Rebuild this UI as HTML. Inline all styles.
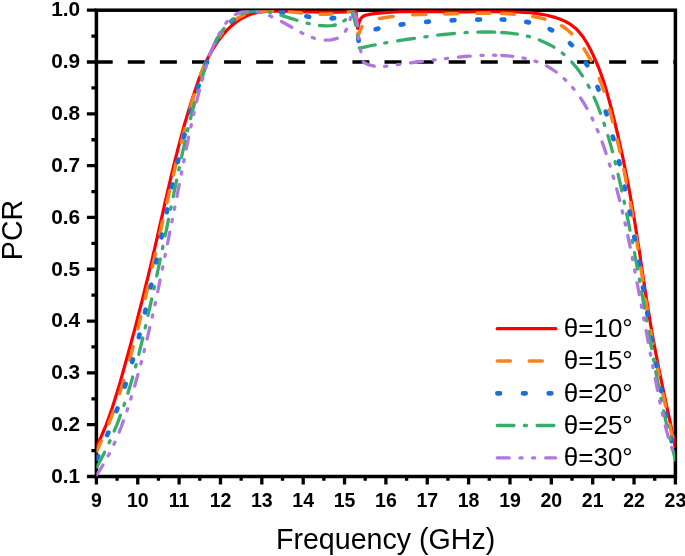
<!DOCTYPE html>
<html><head><meta charset="utf-8"><title>PCR vs Frequency</title>
<style>html,body{margin:0;padding:0;background:#fff}svg{display:block}</style></head>
<body>
<svg width="685" height="556" viewBox="0 0 685 556">
<rect width="685" height="556" fill="#fff"/>
<defs><clipPath id="c"><rect x="96.4" y="10.2" width="579.0" height="466.3"/></clipPath></defs>
<rect x="96.4" y="10.2" width="579.0" height="466.3" fill="none" stroke="#000" stroke-width="3.5"/>
<path d="M96.40,476.5V484.5M117.08,476.5V480.8M137.76,476.5V484.5M158.44,476.5V480.8M179.11,476.5V484.5M199.79,476.5V480.8M220.47,476.5V484.5M241.15,476.5V480.8M261.83,476.5V484.5M282.51,476.5V480.8M303.19,476.5V484.5M323.86,476.5V480.8M344.54,476.5V484.5M365.22,476.5V480.8M385.90,476.5V484.5M406.58,476.5V480.8M427.26,476.5V484.5M447.94,476.5V480.8M468.61,476.5V484.5M489.29,476.5V480.8M509.97,476.5V484.5M530.65,476.5V480.8M551.33,476.5V484.5M572.01,476.5V480.8M592.69,476.5V484.5M613.36,476.5V480.8M634.04,476.5V484.5M654.72,476.5V480.8M675.40,476.5V484.5M96.4,10.20H86.9M96.4,36.11H91.4M96.4,62.01H86.9M96.4,87.92H91.4M96.4,113.82H86.9M96.4,139.73H91.4M96.4,165.63H86.9M96.4,191.54H91.4M96.4,217.44H86.9M96.4,243.35H91.4M96.4,269.26H86.9M96.4,295.16H91.4M96.4,321.07H86.9M96.4,346.97H91.4M96.4,372.88H86.9M96.4,398.78H91.4M96.4,424.69H86.9M96.4,450.59H91.4M96.4,476.50H86.9" stroke="#000" stroke-width="3.3" fill="none"/>
<line x1="95.7" y1="62.0" x2="675.4" y2="62.0" stroke="#000" stroke-width="3.5" stroke-dasharray="17 15.09"/>
<g clip-path="url(#c)" fill="none" stroke-linejoin="round" stroke-linecap="round">
<path d="M96.3,447.0L98.9,441.5L101.4,436.1L103.8,430.5L106.1,425.0L108.2,419.4L110.2,413.7L112.2,408.0L114.0,402.3L115.8,396.6L117.6,390.8L119.3,385.1L121.0,379.3L122.6,373.5L124.2,367.7L125.8,361.9L127.4,356.2L129.0,350.4L130.6,344.6L132.2,338.5L133.9,332.4L135.5,326.3L137.1,320.2L138.6,314.1L140.2,308.0L141.8,301.9L143.3,295.8L144.8,289.7L146.2,283.9L147.7,278.1L149.1,272.2L150.5,266.4L151.9,260.5L153.2,254.7L154.6,248.8L155.9,243.0L157.3,237.1L158.6,231.2L159.9,225.4L161.2,219.5L162.6,213.6L163.9,207.8L165.2,201.9L166.6,196.0L167.9,190.2L169.3,184.3L170.7,178.4L172.0,172.6L173.5,166.7L174.9,160.9L176.4,155.1L177.8,149.3L179.4,143.4L180.9,137.6L182.5,131.6L184.2,125.5L186.0,119.4L187.8,113.4L189.6,107.4L191.5,101.4L193.4,95.4L195.4,89.4L197.4,83.5L199.5,77.6L201.8,71.7L204.2,65.9L206.8,60.2L209.7,54.6L212.6,49.4L215.9,44.3L219.4,39.3L223.2,34.4L227.3,29.9L231.6,25.7L236.3,21.9L241.5,18.5L247.0,15.7L252.8,13.6L258.8,12.3L265.1,11.5L271.1,11.2L277.2,11.1L283.3,11.2L289.4,11.3L295.4,11.5L301.4,11.6L307.7,11.8L314.0,11.9L320.3,12.1L326.5,12.1L332.8,12.2L339.1,12.1L345.1,11.9L351.1,11.5L355.8,10.8L355.7,10.9L356.6,16.9L357.2,23.0L357.6,28.5L357.7,28.3L359.1,22.2L360.7,18.8L362.4,16.8L364.6,15.5L370.6,14.1L376.6,13.4L382.6,12.8L388.5,12.3L394.8,12.0L401.1,11.7L407.4,11.6L413.7,11.5L420.0,11.5L426.0,11.6L432.0,11.6L438.0,11.7L444.0,11.8L450.1,11.8L456.1,11.8L462.1,11.8L468.1,11.8L474.2,11.7L480.2,11.7L486.2,11.6L492.2,11.6L498.5,11.6L504.8,11.7L511.1,11.8L517.3,12.0L523.5,12.3L529.8,12.7L536.0,13.4L541.9,14.3L547.9,15.5L553.8,17.1L559.7,19.0L565.3,21.4L570.6,24.4L575.5,28.2L579.7,32.7L583.5,37.6L586.9,43.0L589.8,48.2L592.5,53.6L595.1,59.3L597.6,65.1L599.9,71.0L602.0,76.9L603.9,82.6L605.7,88.3L607.4,94.1L609.0,99.9L610.6,105.7L612.1,111.5L613.6,117.4L615.0,123.2L616.4,129.1L617.8,134.9L619.1,140.8L620.4,146.6L621.8,152.8L623.1,158.9L624.3,165.1L625.6,171.3L626.8,177.4L628.0,183.6L629.2,189.8L630.3,196.0L631.4,202.2L632.5,208.4L633.5,214.6L634.5,220.5L635.5,226.5L636.4,232.4L637.3,238.3L638.2,244.3L639.2,250.2L640.1,256.1L640.9,262.1L641.8,268.0L642.7,274.0L643.6,279.9L644.5,285.9L645.4,291.8L646.3,297.7L647.3,303.7L648.2,309.6L649.2,315.5L650.1,321.5L651.1,327.4L652.2,333.3L653.2,339.2L654.3,345.1L655.4,351.0L656.5,356.9L657.7,362.8L658.9,369.0L660.2,375.2L661.4,381.0L662.6,386.9L663.9,392.8L665.1,398.6L666.4,404.5L667.6,410.4L668.9,416.2L670.2,422.1L671.4,428.0L672.7,433.9L673.9,439.7L675.1,445.6L675.6,447.7" stroke="#FF0000" stroke-width="3.2" stroke-linecap="butt"/>
<path d="M96.3,451.5L99.0,446.1L101.3,441.1M108.8,423.7L111.0,417.9L113.2,412.0L113.4,411.5M119.5,393.7L121.4,387.8L123.2,381.8L123.6,380.5M129.6,359.8L131.2,353.8L132.8,348.0L133.2,346.6M137.8,328.8L139.3,322.7L140.7,316.9L140.8,316.6M145.1,298.5L146.5,292.6L147.9,286.8L148.1,285.9M152.4,266.9L153.8,261.0L155.1,255.1L155.4,253.7M159.8,234.0L161.2,227.9L162.5,222.0L162.7,221.0M166.9,202.6L168.3,196.6L169.6,190.8M173.4,174.9L174.8,168.8L176.2,163.0L176.3,162.5M181.3,142.3L182.8,136.5L184.3,130.7L184.8,128.6M190.2,108.5L191.9,102.5L193.6,96.8L194.1,94.9M200.5,75.1L202.7,69.4L204.9,63.9L205.7,61.9M215.2,43.5L218.4,38.2L221.9,33.2L222.3,32.7M234.1,20.5L239.2,17.1L244.1,14.8M260.7,11.2L266.8,10.9L272.3,10.9M289.3,11.8L295.4,12.3L301.4,12.9L301.4,12.9M320.0,14.2L326.1,14.2L332.0,14.1M348.3,11.9L352.4,10.8L352.5,10.7L354.9,14.3L355.9,16.7M358.0,33.0L358.4,35.0L360.7,29.4L361.9,26.5M379.5,18.5L385.6,17.5L391.8,16.6L393.1,16.4M412.7,14.8L418.8,14.6L424.8,14.4L425.9,14.3M444.8,14.0L451.0,13.8L457.0,13.7L457.8,13.7M476.9,13.3L483.1,13.2L489.3,13.2L489.9,13.2M501.6,13.5L507.8,13.8L514.1,14.2L514.5,14.2M532.8,16.5L538.8,17.6L544.7,19.0L545.0,19.0M561.6,25.8L566.7,29.3L571.4,33.4L571.7,33.7M584.0,48.9L587.3,54.1L590.4,59.5L591.0,60.5M599.3,78.6L601.6,84.3L603.7,90.3L603.9,91.1M609.5,109.4L611.1,115.4L612.6,121.2L612.8,121.8M617.2,139.6L618.6,145.8L619.9,151.6L620.0,151.8M623.8,169.4L625.0,175.4L626.2,181.6L626.4,182.4M630.3,202.8L631.4,209.0L632.5,215.2L632.7,216.4M635.9,235.8L636.9,241.8L637.8,247.7L637.9,248.8M640.8,267.6L641.7,273.6L642.6,279.5L642.8,280.4M645.6,299.2L646.6,305.4L647.5,311.3L647.6,312.1M650.7,330.8L651.7,336.8L652.8,342.7L652.9,343.6M656.5,362.3L657.7,368.3L658.9,374.2L659.0,375.0M662.9,393.6L664.3,399.8L665.5,405.6L665.7,406.3M669.7,424.9L671.0,430.8L672.3,436.7L672.5,437.6" stroke="#F7821E" stroke-width="3.5"/>
<path d="M97.0,458.5L98.1,456.1M107.2,435.1L108.3,432.6M116.5,411.1L117.4,408.5M124.8,386.6L125.6,384.0M132.2,362.0L132.9,359.4M138.9,337.2L139.5,334.6M145.0,312.4L145.6,309.7M150.7,287.4L151.3,284.7M156.1,262.3L156.7,259.7M161.4,237.3L161.9,234.6M166.7,212.1L167.3,209.5M172.1,187.1L172.7,184.5M177.7,162.2L178.4,159.6M183.8,137.3L184.5,134.7M190.5,112.5L191.2,109.9M197.8,87.9L198.6,85.4M206.0,64.2L207.0,61.7M216.3,41.5L217.6,39.1M231.4,21.4L233.5,19.7M254.9,11.6L257.7,11.2M280.7,11.9L283.4,12.3M306.4,16.3L309.1,16.8M331.6,18.3L334.2,18.1M353.3,13.5L354.3,16.0M358.2,38.2L358.6,40.8M375.7,29.2L378.3,28.6M400.7,24.6L403.3,24.2M426.2,21.8L428.8,21.6M451.7,20.3L454.4,20.2M477.3,19.6L480.0,19.5M501.7,19.5L504.3,19.6M526.3,21.9L528.9,22.4M549.7,29.1L552.1,30.3M570.0,43.3L571.9,45.2M585.8,63.0L587.2,65.3M597.5,86.9L598.5,89.5M605.8,111.6L606.6,114.3M612.8,136.6L613.5,139.2M619.0,161.4L619.6,164.0M624.6,186.6L625.1,189.2M629.6,211.6L630.1,214.2M634.3,236.8L634.8,239.4M638.7,261.9L639.2,264.6M643.0,287.3L643.5,290.0M647.3,312.6L647.7,315.3M651.5,337.8L652.0,340.5M656.0,363.2L656.5,365.9M660.7,388.4L661.2,391.0M665.7,413.5L666.2,416.1M671.1,438.5L671.7,441.2" stroke="#1A6FDF" stroke-width="4.7"/>
<path d="M96.8,467.0L99.8,461.5L102.6,456.2L104.6,452.2M109.1,442.8L110.0,440.8M114.2,431.0L116.6,425.3L118.9,419.4L120.4,415.3M123.9,405.4L124.6,403.3M127.9,393.2L129.7,387.3L131.5,381.3L132.7,377.0M135.5,366.8L136.1,364.7M138.8,354.4L140.2,348.5L141.7,342.7L142.8,338.0M145.2,327.8L145.7,325.6M148.0,315.3L149.4,309.3L150.7,303.5L151.7,299.0M153.9,288.8L154.4,286.6M156.7,276.0L158.0,270.0L159.2,264.1L160.3,259.1M162.5,248.6L162.9,246.4M165.1,235.9L166.4,229.8L167.6,223.6L168.5,219.4M170.6,209.2L171.1,207.0M173.2,196.7L174.4,190.7L175.7,184.6L176.6,180.2M178.8,169.9L179.3,167.7M181.5,157.4L182.8,151.4L184.2,145.3L185.1,141.0M187.5,130.9L188.0,128.8M190.5,118.5L192.0,112.6L193.6,106.8L194.8,102.3M197.6,92.3L198.2,90.2M201.3,80.0L203.2,74.2L205.1,68.5L206.6,64.2M210.1,54.4L210.9,52.3M215.2,42.6L218.1,37.1L221.4,31.9L224.0,28.5M231.3,21.0L233.0,19.6M242.1,14.0L247.8,11.9L253.9,10.8L258.3,10.7M268.7,11.9L270.8,12.4M281.0,15.2L286.8,17.1L292.6,18.9L297.0,20.3M307.1,23.2L309.2,23.7M319.4,25.5L325.7,25.9L331.7,25.6L335.3,25.0M343.9,21.0L345.5,19.7M351.2,11.1L351.5,10.3L353.4,16.0L355.0,21.9L355.7,25.3M357.4,35.3L357.7,37.5M359.3,47.8L359.3,48.0L359.6,48.1L365.5,46.8L371.4,45.5L375.1,44.8M384.7,43.0L386.8,42.6M397.6,40.8L403.6,39.9L409.8,39.0L414.4,38.3M424.8,36.9L427.1,36.6M437.7,35.2L444.0,34.5L449.9,33.9L454.5,33.5M465.0,32.7L467.2,32.5M477.9,32.1L484.1,32.0L490.2,32.0L494.7,32.1M501.6,32.5L507.7,32.9L513.7,33.6L517.4,34.1M527.4,36.2L529.5,36.7M539.3,39.9L545.0,42.4L550.6,45.2L553.9,47.2M562.3,53.1L564.0,54.5M571.8,62.1L575.9,66.8L579.7,71.8L582.4,75.8M588.1,85.3L589.2,87.3M594.1,97.3L596.5,102.9L598.7,108.5L600.5,113.3M604.0,123.3L604.7,125.4M607.9,135.6L609.6,141.4L611.3,147.4L612.5,151.7M615.1,161.7L615.6,163.9M618.1,174.3L619.5,180.3L620.9,186.4L621.8,190.8M624.1,201.2L624.5,203.4M626.7,213.8L627.9,219.8L629.1,225.7L630.0,230.2M632.1,240.4L632.5,242.5M634.5,252.7L635.6,258.7L636.7,264.6L637.5,269.0M639.4,279.1L639.8,281.3M641.6,291.7L642.7,297.7L643.7,303.6L644.5,308.2M646.3,318.6L646.7,320.9M648.6,331.6L649.6,337.6L650.7,343.5L651.6,348.5M653.5,359.1L653.9,361.3M655.8,371.7L656.9,377.8L658.1,383.9L659.0,388.1M661.0,398.3L661.4,400.5M663.6,410.9L664.9,416.8L666.2,422.7L667.3,427.2M669.7,437.3L670.2,439.4M672.8,449.7L674.4,455.7L675.5,460.0" stroke="#37AD6B" stroke-width="3.3"/>
<path d="M96.4,475.2L99.9,470.0L102.9,465.1M108.2,455.8L109.3,453.8M113.9,444.2L114.9,442.2M119.2,432.1L121.4,426.5L123.4,420.9M127.0,410.9L127.6,408.8M130.8,399.0L131.4,396.8M134.7,386.1L136.3,380.3L138.0,374.5L138.0,374.3M140.9,363.8L141.4,361.6M144.0,351.6L144.5,349.5M147.1,339.0L148.5,332.9L149.8,327.5M152.2,317.1L152.7,315.0M154.9,304.7L155.4,302.6M157.7,291.7L158.9,285.7L160.1,279.9L160.1,279.8M162.3,269.1L162.8,266.9M164.9,256.5L165.3,254.4M167.5,243.8L168.7,237.8L169.8,232.1M171.9,221.7L172.4,219.5M174.4,209.3L174.8,207.1M177.0,196.4L178.1,190.4L179.3,184.6M181.3,174.1L181.7,171.9M183.7,161.8L184.1,159.6M186.2,149.0L187.5,143.0L188.6,137.2M190.9,126.8L191.3,124.6M193.6,114.5L194.1,112.3M196.6,101.7L198.0,95.8L199.5,90.1M202.3,79.8L202.8,77.6M205.8,67.7L206.4,65.6M209.7,55.2L211.9,49.3L214.1,44.1M219.0,34.5L220.0,32.5M225.8,23.3L227.2,21.6M235.5,14.6L241.0,12.0L247.0,10.9L247.1,10.9M257.5,11.9L259.6,12.4M269.7,15.8L271.7,16.7M281.4,21.5L286.9,24.5L291.7,27.3M301.0,32.5L302.9,33.4M312.3,37.5L314.4,38.2M325.2,40.1L331.4,39.8L337.2,38.3M345.4,31.2L346.5,29.3M350.1,19.5L350.6,17.4M354.4,13.9L356.5,19.7L357.5,25.6M358.2,36.2L358.4,38.5M360.4,49.6L360.9,51.7M363.3,62.0L363.4,62.3L369.0,64.9L374.3,66.2M384.6,66.4L386.8,66.2M397.4,64.7L399.6,64.4M410.5,62.8L416.4,62.0L422.4,61.3M433.0,60.1L435.1,59.8M445.4,58.6L447.6,58.3M458.4,57.1L464.4,56.5L470.3,56.1M481.0,55.4L483.2,55.3M493.6,55.2L495.8,55.3M501.7,55.5L507.8,55.9L512.8,56.4M523.1,58.0L525.2,58.4M535.0,61.1L537.0,61.8M546.5,65.9L551.8,69.0L556.2,72.0M564.1,78.7L565.7,80.2M572.6,87.6L574.0,89.3M580.6,98.1L583.9,103.2L586.9,108.3M592.0,117.9L592.9,119.9M597.2,129.6L598.1,131.7M602.1,142.0L604.2,147.9L606.1,153.6M609.4,164.0L610.1,166.1M613.1,176.2L613.7,178.4M616.7,188.9L618.2,194.9L619.7,200.5M622.2,210.9L622.7,213.0M625.0,222.9L625.5,225.0M627.8,235.5L629.0,241.6L630.2,247.1M632.3,257.5L632.7,259.6M634.7,269.9L635.1,272.1M637.1,282.8L638.3,289.0L639.3,294.7M641.3,305.2L641.7,307.4M643.7,317.8L644.1,320.0M646.1,330.6L647.2,336.5L648.3,342.4L648.3,342.4M650.3,353.1L650.7,355.2M652.7,365.5L653.1,367.7M655.3,378.4L656.4,384.5L657.6,390.3M659.7,400.8L660.1,403.0M662.3,413.0L662.8,415.2M665.3,425.8L666.8,431.7L668.4,437.3M671.7,447.4L672.4,449.5" stroke="#B177DE" stroke-width="3.3"/>
</g>
<g font-family="'Liberation Sans', sans-serif" font-weight="bold" font-size="19.5px" fill="#000">
<text x="96.4" y="507" text-anchor="middle">9</text>
<text x="137.8" y="507" text-anchor="middle">10</text>
<text x="179.1" y="507" text-anchor="middle">11</text>
<text x="220.5" y="507" text-anchor="middle">12</text>
<text x="261.8" y="507" text-anchor="middle">13</text>
<text x="303.2" y="507" text-anchor="middle">14</text>
<text x="344.5" y="507" text-anchor="middle">15</text>
<text x="385.9" y="507" text-anchor="middle">16</text>
<text x="427.3" y="507" text-anchor="middle">17</text>
<text x="468.6" y="507" text-anchor="middle">18</text>
<text x="510.0" y="507" text-anchor="middle">19</text>
<text x="551.3" y="507" text-anchor="middle">20</text>
<text x="592.7" y="507" text-anchor="middle">21</text>
<text x="634.0" y="507" text-anchor="middle">22</text>
<text x="675.4" y="507" text-anchor="middle">23</text>
</g>
<g font-family="'Liberation Sans', sans-serif" font-weight="bold" font-size="20.8px" fill="#000">
<text x="80.2" y="16.4" text-anchor="end">1.0</text>
<text x="80.2" y="68.2" text-anchor="end">0.9</text>
<text x="80.2" y="120.0" text-anchor="end">0.8</text>
<text x="80.2" y="171.8" text-anchor="end">0.7</text>
<text x="80.2" y="223.6" text-anchor="end">0.6</text>
<text x="80.2" y="275.5" text-anchor="end">0.5</text>
<text x="80.2" y="327.3" text-anchor="end">0.4</text>
<text x="80.2" y="379.1" text-anchor="end">0.3</text>
<text x="80.2" y="430.9" text-anchor="end">0.2</text>
<text x="80.2" y="482.7" text-anchor="end">0.1</text>
</g>
<g font-family="'Liberation Sans', sans-serif" font-size="28.6px" fill="#000">
<text x="385.6" y="548.8" text-anchor="middle">Frequency (GHz)</text>
<text transform="translate(21.8,230) rotate(-90)" text-anchor="middle">PCR</text>
</g>
<g fill="none" stroke-linecap="round">
<line x1="497.20" y1="328.7" x2="555.80" y2="328.7" stroke="#FF0000" stroke-width="3.2"/>
<line x1="497.35" y1="361.1" x2="555.6" y2="361.1" stroke="#F7821E" stroke-width="3.5" stroke-dasharray="13 18.9"/>
<line x1="497.35" y1="393.3" x2="555.6" y2="393.3" stroke="#1A6FDF" stroke-width="4.7" stroke-dasharray="2.7 22.95"/>
<line x1="497.25" y1="425.5" x2="555.6" y2="425.5" stroke="#37AD6B" stroke-width="3.3" stroke-dasharray="16.7 10.4 2.2 10.6"/>
<line x1="497.25" y1="457.9" x2="555.6" y2="457.9" stroke="#B177DE" stroke-width="3.3" stroke-dasharray="12 10.7 2.2 10.4 2.2 10.9"/>
</g>
<g font-family="'Liberation Sans', sans-serif" font-size="26px" fill="#000">
<text x="563.8" y="337.0">θ=10°</text>
<text x="563.8" y="369.4">θ=15°</text>
<text x="563.8" y="401.6">θ=20°</text>
<text x="563.8" y="433.8">θ=25°</text>
<text x="563.8" y="466.2">θ=30°</text>
</g>
</svg>
</body></html>
